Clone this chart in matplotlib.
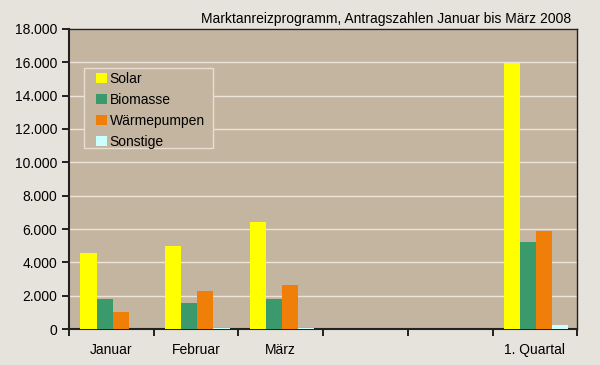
import numpy as np
import matplotlib.pyplot as plt
from matplotlib.patches import Rectangle
from matplotlib.ticker import FuncFormatter

plt.rcParams['font.family'] = ['Liberation Sans', 'DejaVu Sans']

# Daten
kategorien = ["Januar", "Februar", "März", "", "", "1. Quartal"]
serien = ["Solar", "Biomasse", "Wärmepumpen", "Sonstige"]
solar = [4580, 5000, 6450, 0, 0, 15940]
biomasse = [1780, 1580, 1780, 0, 0, 5220]
waermepumpen = [1040, 2260, 2620, 0, 0, 5880]
sonstige = [20, 50, 60, 0, 0, 250]
farben = ["#FFFF00", "#3A9A6C", "#F07F0A", "#CCFFFF"]

werte = [solar, biomasse, waermepumpen, sonstige]

fig = plt.figure(figsize=(6, 3.65), dpi=100, facecolor="#E6E2DC")
ax = fig.add_axes([0.115, 0.0986, 0.847, 0.822])
ax.set_facecolor("#C4B5A1")

x = np.arange(len(kategorien))
breite = 0.19
for i, (name, w) in enumerate(zip(serien, werte)):
    ax.bar(x - 1.5 * breite + i * breite + 0.015, w, breite, color=farben[i],
           label=name, zorder=3)

ax.set_xlim(-0.5, len(kategorien) - 0.5)
ax.set_ylim(0, 18000)
ax.set_yticks(np.arange(0, 18001, 2000))
ax.yaxis.set_major_formatter(FuncFormatter(lambda v, p: f"{int(v):,}".replace(",", ".")))
ax.grid(axis="y", color="#EDE4D8", linewidth=1, zorder=1)

ax.set_xticks(np.arange(-0.5, len(kategorien)), minor=False)
ax.set_xticklabels([])
ax.set_xticks(x, minor=True)
ax.set_xticklabels(kategorien, minor=True)
ax.tick_params(axis="x", which="major", length=5, width=1.2, direction="out")
ax.tick_params(axis="x", which="minor", length=0, pad=10, labelsize=10)
ax.tick_params(axis="y", length=5, width=1.2, labelsize=10)

for s in ax.spines.values():
    s.set_color("#222222")
    s.set_linewidth(1)
ax.spines["left"].set_linewidth(1.5)
ax.spines["bottom"].set_linewidth(1.5)

# Legendenrahmen separat, damit die Innenabstände passen
ax.add_patch(Rectangle((0.0295, 0.603), 0.254, 0.267, transform=ax.transAxes,
                       facecolor="#C4B5A1", edgecolor="#E6DED2", linewidth=1, zorder=4))
leg = ax.legend(loc="upper left", bbox_to_anchor=(0.053, 0.857), frameon=False,
                fontsize=10, handlelength=0.8, handleheight=0.8, borderpad=0,
                borderaxespad=0, handletextpad=0.2, labelspacing=0.5)
leg.set_zorder(5)

fig.text(0.952, 0.948, "Marktanreizprogramm, Antragszahlen Januar bis März 2008",
         ha="right", va="center", fontsize=10)

fig.savefig("out.png", dpi=100, facecolor=fig.get_facecolor())
